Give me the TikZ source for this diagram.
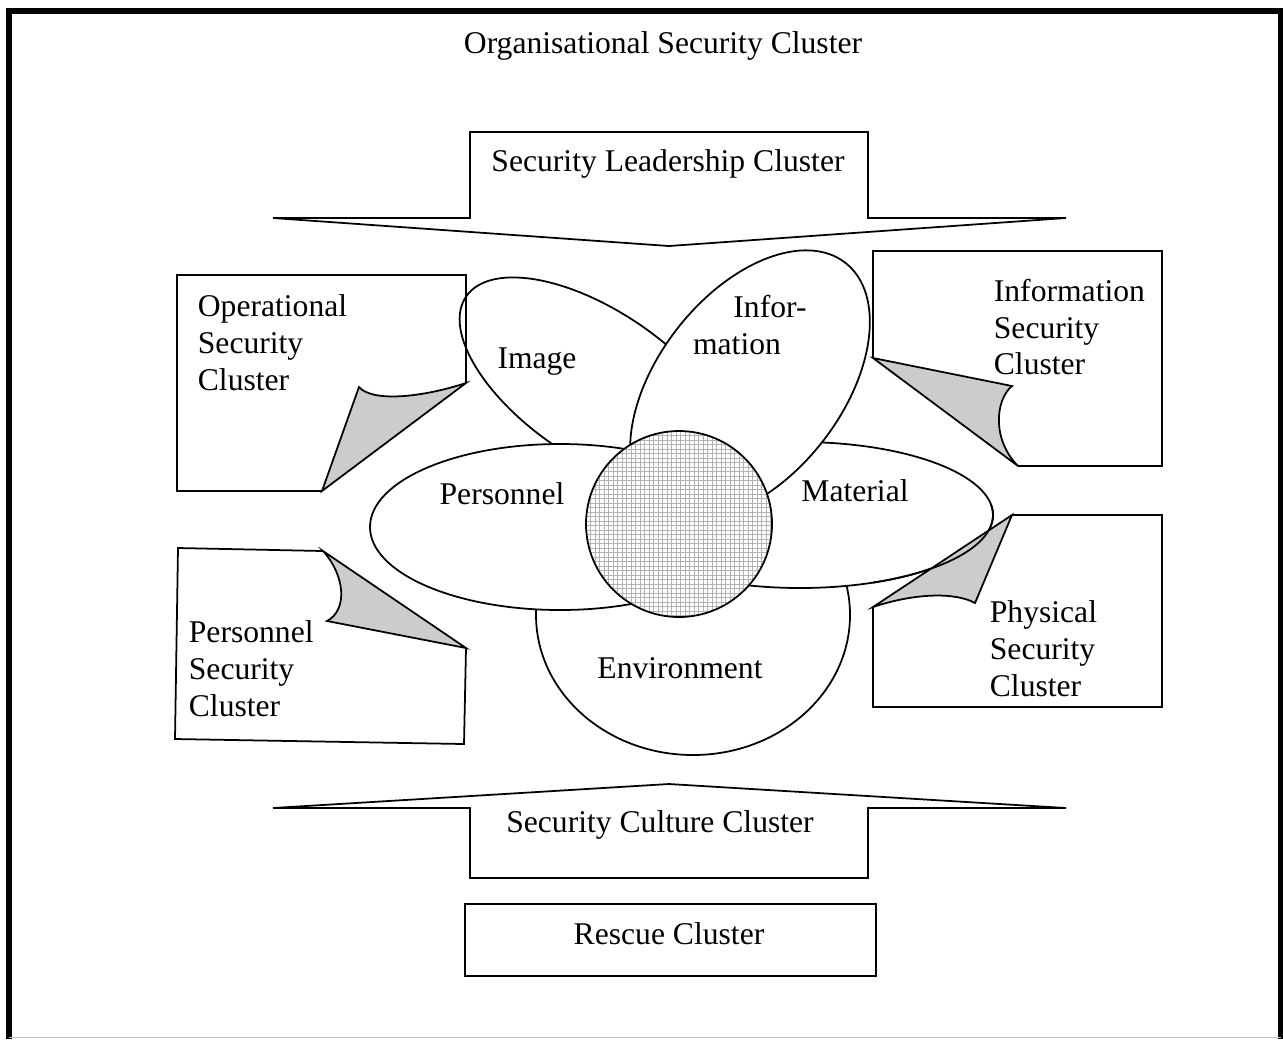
\documentclass[tikz,border=0pt]{standalone}
\usepackage{fontspec}
\setmainfont{Liberation Serif}
\usetikzlibrary{math}

\begin{document}
\begin{tikzpicture}[x=0.02cm, y=-0.02cm, line width=1pt,
  every node/.style={font=\fontsize{18}{21}\selectfont, inner sep=0pt},
  petal/.style={draw, fill=white},
  curl/.style={draw, fill=black!20}]

\useasboundingbox (0,0) rectangle (1283,1039);

% Frame
\draw[line width=3.4pt] (9,1039) -- (9,11) -- (1281,11) -- (1281,1039);
\draw[black!25, line width=0.5pt] (9,1037) -- (1281,1037);
\node (title) at (663,46) {Organisational Security Cluster};

% Leadership arrow
\draw (470,218) -- (470,132) -- (868,132) -- (868,218) -- (1066,218) -- (669,246) -- (273,218) -- cycle;
\node (lead) at (668,164) {Security Leadership Cluster};

% Culture arrow
\draw (470,808) -- (470,878) -- (868,878) -- (868,808) -- (1066,808) -- (669,784) -- (273,808) -- cycle;
\node (culture) at (660,825) {Security Culture Cluster};

% Rescue
\draw (465,904) rectangle (876,976);
\node (rescue) at (669,934) {Rescue Cluster};

% Petals
\draw[petal, rotate around={-34:(597,385)}] (597,385) ellipse [x radius=158, y radius=74];
\draw[petal] (693,615) ellipse [x radius=157, y radius=140];
\draw[petal] (800,515) ellipse [x radius=193, y radius=73];
\draw[petal, rotate around={52:(750,385)}] (750,385) ellipse [x radius=155, y radius=92];
\draw[petal] (560,527) ellipse [x radius=190, y radius=83];

% Operational page
\tikzmath{ \x = 177; \y = 275; }
\draw (\x + 145, \y + 216) -- (\x, \y + 216) -- (\x, \y) -- (\x + 289, \y) -- (\x + 289, \y + 108);
\draw[curl] (\x + 289, \y + 108) -- (\x + 145, \y + 216) -- (\x + 182, \y + 112)
  .. controls (\x + 195, \y + 127) and (\x + 243, \y + 123) .. (\x + 289, \y + 108) -- cycle;
\node[anchor=north west, align=left] (oper) at (\x + 20, \y + 19) {Operational\\Security\\Cluster};

% Information page
\tikzmath{ \x = 873; \y = 251; }
\draw (\x, \y + 107) -- (\x, \y) -- (\x + 289, \y) -- (\x + 289, \y + 215) -- (\x + 145, \y + 215);
\draw[curl] (\x, \y + 107) -- (\x + 145, \y + 215)
  .. controls (\x + 119, \y + 189) and (\x + 122, \y + 149) .. (\x + 139, \y + 135) -- cycle;
\node[anchor=north west, align=left] (infosec) at (\x + 120, \y + 27) {Information\\Security\\Cluster};

% Personnel page
\tikzmath{ \x = 175; \y = 548; }
\draw (\x + 148, \y + 3) -- (\x + 3, \y) -- (\x, \y + 191) -- (\x + 289, \y + 196) -- (\x + 291, \y + 100);
\draw[curl] (\x + 148, \y + 3) -- (\x + 291, \y + 100) -- (\x + 152, \y + 73)
  .. controls (\x + 173, \y + 62) and (\x + 170, \y + 27) .. (\x + 148, \y + 3) -- cycle;
\node[anchor=north west, align=left] (perssec) at (\x + 13, \y + 72) {Personnel\\Security\\Cluster};

% Physical page
\tikzmath{ \x = 873; \y = 515; }
\draw (\x + 139, \y) -- (\x + 289, \y) -- (\x + 289, \y + 192) -- (\x, \y + 192) -- (\x, \y + 92);
\draw[curl] (\x, \y + 92) -- (\x + 139, \y) -- (\x + 102, \y + 88)
  .. controls (\x + 82, \y + 77) and (\x + 42, \y + 78) .. (\x, \y + 92) -- cycle;
\node[anchor=north west, align=left] (physsec) at (\x + 116, \y + 85) {Physical\\Security\\Cluster};
\begin{scope}
\clip (\x, \y - 10) rectangle (\x + 150, \y + 100);
\draw (800,515) ellipse [x radius=193, y radius=73];
\end{scope}

% Core
\begin{scope}
\clip (679,524) circle [radius=93];
\fill[white] (586,431) rectangle (772,617);
\foreach \k in {0,...,41} {
  \draw[black!30, line width=0.45pt] (586 + \k * 4.5, 431) -- (586 + \k * 4.5, 617);
  \draw[black!30, line width=0.45pt] (586, 431 + \k * 4.5) -- (772, 431 + \k * 4.5);
}
\end{scope}
\draw (679,524) circle [radius=93];

\node (image) at (537,362) {Image};
\node (info1) at (770,307) {Infor-};
\node (info2) at (737,344) {mation};
\node (pers) at (502,494) {Personnel};
\node (mat) at (855,491) {Material};
\node (env) at (680,668) {Environment};

\end{tikzpicture}
\end{document}
